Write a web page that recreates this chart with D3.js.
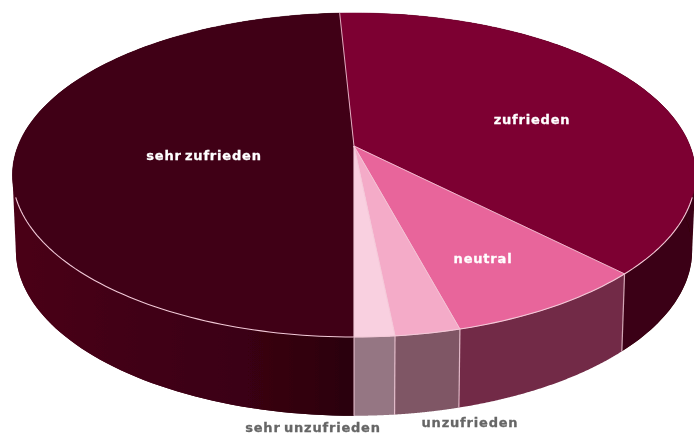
<!DOCTYPE html>
<html>
<head>
<meta charset="utf-8">
<script src="https://cdn.jsdelivr.net/npm/d3@7"></script>
<style>
  html, body { margin: 0; padding: 0; background: #fff; }
  text { font-family: "DejaVu Sans", sans-serif; font-weight: bold; letter-spacing: 0.8px; word-spacing: -2px; }
</style>
</head>
<body>
<div id="chart"></div>
<script>
// Data (Anteile in %, aus dem Bild geschaetzt)
const categories = ['sehr zufrieden', 'zufrieden', 'neutral', 'unzufrieden', 'sehr unzufrieden']
const shares = [49.2, 38.4, 8.2, 2.6, 1.6]

// Colors
const topColors = ['#3f0017', '#7d0032', '#e8659b', '#f4abc8', '#f9d0e0']
const wallColors = ['url(#wallDark)', '#3a0012', '#722b47', '#7f5665', '#957683']
const edgeColor = '#f3c9d8'

// Dimensions
const dimensions = { width: 694, height: 434 }

// il disco e' in prospettiva: il centro non cade al centro dell'ellisse
const disc = { cx: 354, cy: 146, a: 130.7, k: -0.179, rx: 336, shrink: 0.99, yScale: 1.02, yShift: 72 }

function project(angle, radius = 1, lower = false) {
  const u = Math.sin(angle) * radius
  const v = -Math.cos(angle) * radius
  const w = 1 + disc.k * v
  let x = disc.cx + disc.rx * u / w
  let y = (disc.a * v + disc.cy) / w
  if (lower) {
    x = disc.cx + (x - disc.cx) * disc.shrink
    y = y * disc.yScale + disc.yShift
  }
  return [x, y]
}

const svg = d3.select('#chart')
  .append('svg')
  .attr('width', dimensions.width)
  .attr('height', dimensions.height)
  .style('display', 'block')

const defs = svg.append('defs')
const grad = defs.append('linearGradient')
  .attr('id', 'wallDark')
  .attr('gradientUnits', 'userSpaceOnUse')
  .attr('x1', 0)
  .attr('x2', 354)
  .attr('y1', 0)
  .attr('y2', 0)
grad.append('stop').attr('offset', '0%').attr('stop-color', '#4a0019')
grad.append('stop').attr('offset', '70%').attr('stop-color', '#3a0012')
grad.append('stop').attr('offset', '100%').attr('stop-color', '#2a000c')

defs.append('filter').attr('id', 'soft')
  .append('feGaussianBlur').attr('stdDeviation', 0.5)

const pie = d3.pie()
  .sort(null)
  .startAngle(Math.PI)
  .endAngle(3 * Math.PI)

const slices = pie(shares)
const line = d3.line()

function arcPoints(start, end, lower) {
  return d3.range(0, 121).map(i => project(start + (end - start) * i / 120, 1, lower))
}

function rim(d, lower) {
  return arcPoints(d.startAngle, d.endAngle, lower)
}

const chart = svg.append('g').attr('filter', 'url(#soft)')

// pareti laterali: inviluppo + banda, altrimenti resta un buco sulla tangente
const walls = chart.append('g')
walls.selectAll('path.hull')
  .data(slices.slice(0, 2))
  .join('path')
  .attr('class', 'hull')
  .attr('d', d => line(d3.polygonHull(rim(d, false).concat(rim(d, true)))) + 'Z')
  .attr('fill', (d, i) => wallColors[i])
walls.selectAll('path.band')
  .data(slices)
  .join('path')
  .attr('class', 'band')
  .attr('d', d => line(rim(d, false).concat(rim(d, true).reverse())) + 'Z')
  .attr('fill', (d, i) => wallColors[i])

// spigoli verticali tra le pareti (solo davanti)
chart.append('g')
  .selectAll('line')
  .data(slices.slice(2).map(d => d.startAngle).concat(slices[4].endAngle))
  .join('line')
  .attr('x1', d => project(d)[0])
  .attr('y1', d => project(d)[1])
  .attr('x2', d => project(d, 1, true)[0])
  .attr('y2', d => project(d, 1, true)[1])
  .attr('stroke', edgeColor)
  .attr('stroke-opacity', 0.8)
  .attr('stroke-width', 1.2)

// facce superiori, senza bordo sul retro
chart.append('g')
  .selectAll('path')
  .data(slices)
  .join('path')
  .attr('d', d => line([[disc.cx, disc.cy]].concat(rim(d, false))) + 'Z')
  .attr('fill', (d, i) => topColors[i])
  .attr('stroke', (d, i) => topColors[i])
  .attr('stroke-width', 0.5)

// raggi tra le fette
chart.append('g')
  .selectAll('line')
  .data(slices.slice(1).map(d => d.startAngle).concat(slices[4].endAngle))
  .join('line')
  .attr('x1', disc.cx)
  .attr('y1', disc.cy)
  .attr('x2', d => project(d)[0])
  .attr('y2', d => project(d)[1])
  .attr('stroke', edgeColor)
  .attr('stroke-opacity', 0.85)
  .attr('stroke-width', 1)

// bordo chiaro davanti
chart.append('path')
  .attr('d', line(arcPoints(Math.PI * 0.6, Math.PI * 1.4, false)))
  .attr('fill', 'none')
  .attr('stroke', edgeColor)
  .attr('stroke-width', 1.1)

// Labels
const labelStyle = [
  { x: 204, y: 160, fill: '#fff' },
  { x: 532, y: 124, fill: '#fff' },
  { x: 483, y: 263, fill: '#fff' },
  { x: 470, y: 427, fill: '#666' },
  { x: 313, y: 432, fill: '#666' }
]

svg.append('g')
  .attr('filter', 'url(#soft)')
  .selectAll('text')
  .data(categories)
  .join('text')
  .attr('x', (d, i) => labelStyle[i].x)
  .attr('y', (d, i) => labelStyle[i].y)
  .attr('text-anchor', 'middle')
  .attr('font-size', 13)
  .attr('fill', (d, i) => labelStyle[i].fill)
  .attr('stroke', (d, i) => labelStyle[i].fill)
  .attr('stroke-width', 0.3)
  .text(d => d)
</script>
</body>
</html>
